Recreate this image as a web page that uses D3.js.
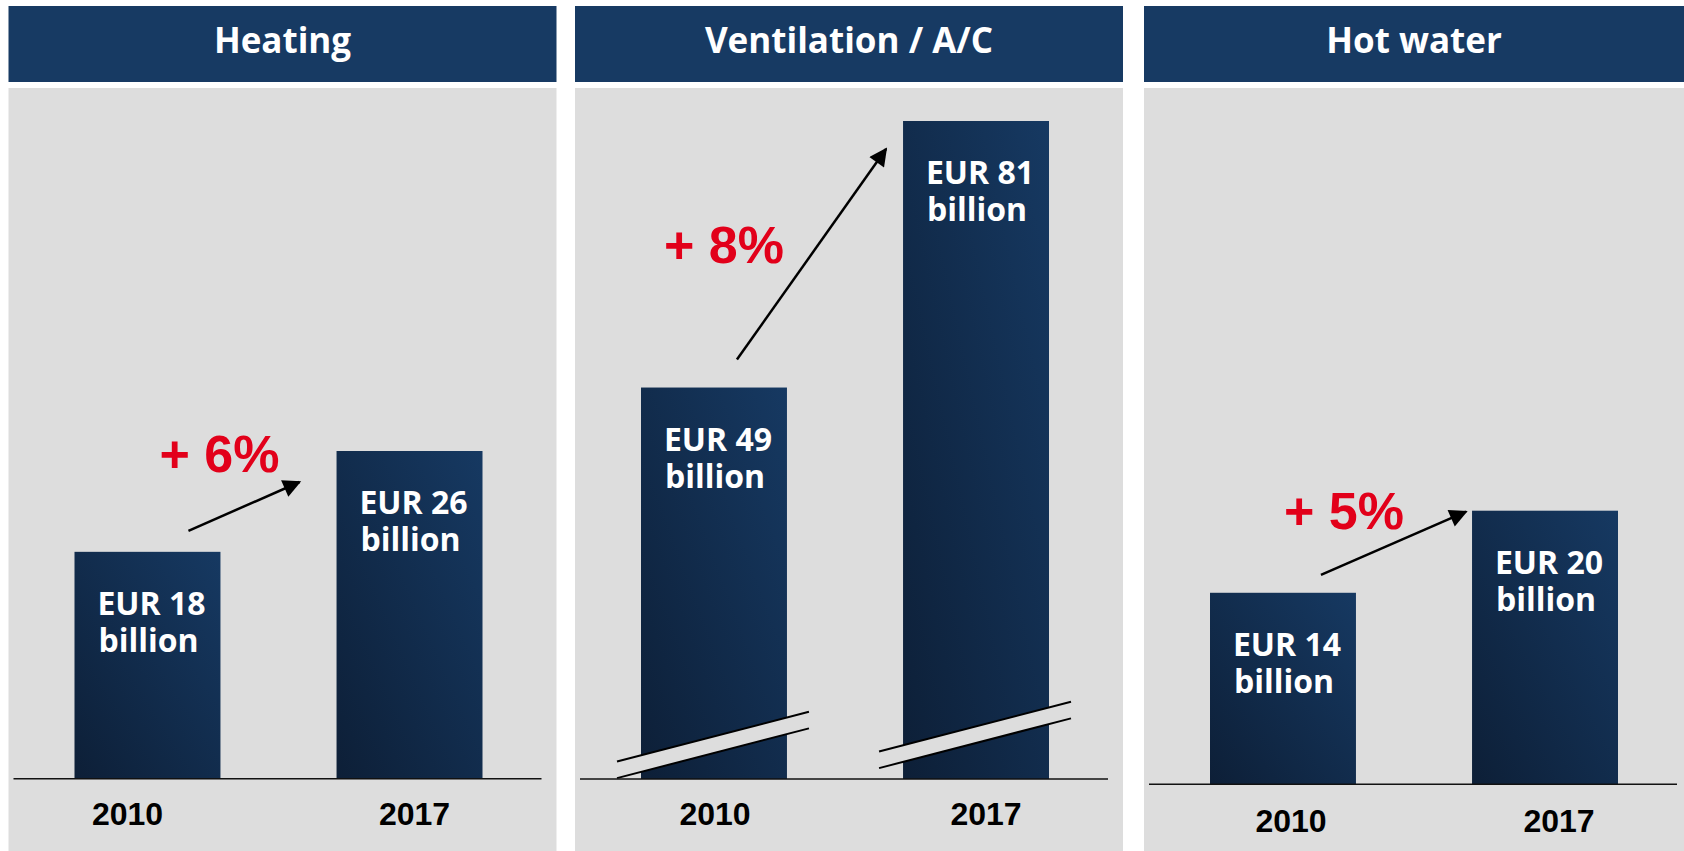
<!DOCTYPE html>
<html>
<head>
<meta charset="utf-8">
<script src="https://cdn.jsdelivr.net/npm/d3@7"></script>
<style>
  body { margin: 0; background: #fff; }
  svg { display: block; }
</style>
</head>
<body>
<div id="chart"></div>
<script>
// data
var years = ["2010", "2017"];
var titles = ["Heating", "Ventilation / A/C", "Hot water"];
var heating = [18, 26];
var ventilation = [49, 81];
var hotWater = [14, 20];
var growth = ["+ 6%", "+ 8%", "+ 5%"];

var w = 1684, h = 851;

// layout of each panel (positions only, no values)
var panels = [
    { title: titles[0], values: heating, growth: growth[0], x: 8.5, width: 548, base: 778.7, top: 451, axisMin: 0,
      labelDx: [-20, 5], labelY: 825, arrow: [-32, -21, -37, 31], growthPos: [85, -80], broken: false },
    { title: titles[1], values: ventilation, growth: growth[1], x: 575, width: 548, base: 779, top: 121, axisMin: 2,
      labelDx: [1, 10], labelY: 825, arrow: [-50, -28, -17, 28], growthPos: [23, -125], broken: true, breakOff: [26, 36] },
    { title: titles[2], values: hotWater, growth: growth[2], x: 1144, width: 540, base: 784.3, top: 510.7, axisMin: 0,
      labelDx: [8, 14], labelY: 831.7, arrow: [-35, -18, -6, 1], growthPos: [74, -64], broken: false }
];

var svg = d3.select("#chart").append("svg")
    .attr("width", w)
    .attr("height", h);

var defs = svg.append("defs");
var grad = defs.append("linearGradient")
    .attr("id", "barGrad")
    .attr("x1", 0).attr("y1", 1)
    .attr("x2", 1).attr("y2", 0);
grad.append("stop").attr("offset", "0%").attr("stop-color", "#0d1f37");
grad.append("stop").attr("offset", "100%").attr("stop-color", "#163962");

defs.append("marker")
    .attr("id", "arrowHead")
    .attr("viewBox", "0 0 10 10")
    .attr("refX", 9).attr("refY", 5)
    .attr("markerUnits", "userSpaceOnUse")
    .attr("markerWidth", 24).attr("markerHeight", 18)
    .attr("orient", "auto")
    .append("path")
    .attr("d", "M0,0 L10,5 L0,10 Z")
    .attr("fill", "#000");

var bg = "#dddddd";

panels.forEach(function (p) {
    var g = svg.append("g");

    // header + body
    g.append("rect").attr("x", p.x).attr("y", 6).attr("width", p.width).attr("height", 76).attr("fill", "#173a63");
    g.append("rect").attr("x", p.x).attr("y", 88).attr("width", p.width).attr("height", h - 88).attr("fill", bg);
    g.append("text")
        .attr("x", p.x + p.width / 2)
        .attr("y", 53)
        .attr("text-anchor", "middle")
        .style("font", "700 35px 'Open Sans'")
        .attr("fill", "#fff")
        .text(p.title);

    var x = d3.scaleBand()
        .domain(years)
        .range([p.x + 66, p.x + 66 + 408])
        .paddingInner(0.443)
        .paddingOuter(0);

    var y = d3.scaleLinear()
        .domain([p.axisMin, d3.max(p.values)])
        .range([p.base, p.top]);

    var rows = years.map(function (yr, i) { return { year: yr, value: p.values[i], i: i }; });

    g.selectAll(".bar")
        .data(rows)
        .enter().append("rect")
        .attr("class", "bar")
        .attr("x", function (d) { return x(d.year); })
        .attr("y", function (d) { return y(d.value); })
        .attr("width", x.bandwidth())
        .attr("height", function (d) { return p.base - y(d.value); })
        .attr("fill", "url(#barGrad)");

    // axis break marks
    if (p.broken) {
        var slope = -0.259, gap = 16.6;
        rows.forEach(function (d) {
            var cx = x(d.year) + x.bandwidth() / 2;
            var cy = p.base - p.breakOff[d.i];
            var x1 = x(d.year) - 24, x2 = x(d.year) + x.bandwidth() + 22;
            var yl1 = cy + slope * (x1 - cx), yl2 = cy + slope * (x2 - cx);
            g.append("path")
                .attr("d", "M" + x1 + "," + yl1 + "L" + x2 + "," + yl2 + "L" + x2 + "," + (yl2 - gap) + "L" + x1 + "," + (yl1 - gap) + "Z")
                .attr("fill", bg);
            [0, gap].forEach(function (o) {
                g.append("line")
                    .attr("x1", x1).attr("y1", yl1 - o)
                    .attr("x2", x2).attr("y2", yl2 - o)
                    .attr("stroke", "#000")
                    .attr("stroke-width", 2);
            });
        });
    }

    // base line
    g.append("line")
        .attr("x1", p.x + 5).attr("x2", p.x + 533)
        .attr("y1", p.base).attr("y2", p.base)
        .attr("stroke", "#111")
        .attr("stroke-width", 1.5);

    // category labels
    g.selectAll(".year")
        .data(rows)
        .enter().append("text")
        .attr("x", function (d) { return x(d.year) + x.bandwidth() / 2 + p.labelDx[d.i]; })
        .attr("y", p.labelY)
        .attr("text-anchor", "middle")
        .style("font", "700 32px 'Liberation Sans', Arial, sans-serif")
        .attr("fill", "#000")
        .text(function (d) { return d.year; });

    // value labels
    var vl = g.selectAll(".val")
        .data(rows)
        .enter().append("text")
        .attr("text-anchor", "middle")
        .style("font", "700 32px 'Open Sans'")
        .attr("fill", "#fff");
    vl.append("tspan")
        .attr("x", function (d) { return x(d.year) + x.bandwidth() / 2 + 4; })
        .attr("y", function (d) { return y(d.value) + 63; })
        .text(function (d) { return "EUR " + d.value; });
    vl.append("tspan")
        .attr("x", function (d) { return x(d.year) + x.bandwidth() / 2 + 1; })
        .attr("y", function (d) { return y(d.value) + 100; })
        .text("billion");

    // growth arrow
    var a = p.arrow;
    var b0 = rows[0], b1 = rows[1];
    g.append("line")
        .attr("x1", x(b0.year) + x.bandwidth() + a[0])
        .attr("y1", y(b0.value) + a[1])
        .attr("x2", x(b1.year) + a[2])
        .attr("y2", y(b1.value) + a[3])
        .attr("stroke", "#000")
        .attr("stroke-width", 2.5)
        .attr("marker-end", "url(#arrowHead)");

    g.append("text")
        .attr("x", x(b0.year) + p.growthPos[0])
        .attr("y", y(b0.value) + p.growthPos[1])
        .style("font", "700 52px 'Liberation Sans', Arial, sans-serif")
        .attr("fill", "#e2001a")
        .text(p.growth);
});
</script>
</body>
</html>
